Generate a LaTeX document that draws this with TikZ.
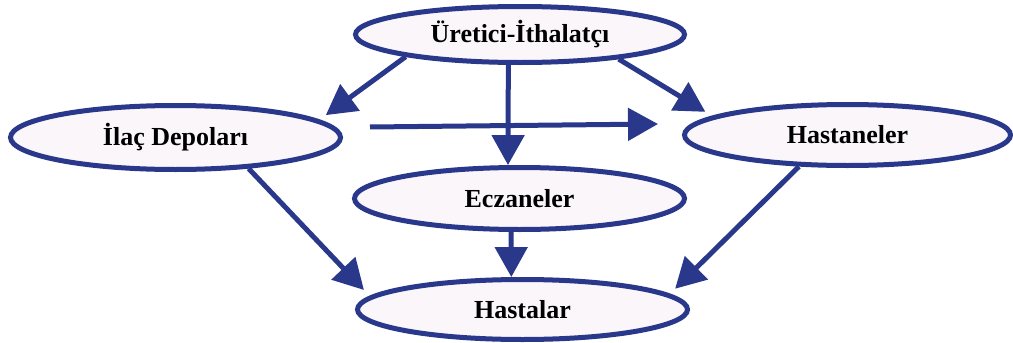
\documentclass[tikz,border=0pt]{standalone}
\usepackage{fontspec}
\setmainfont{Liberation Serif}
\usepackage{xcolor}
\usetikzlibrary{arrows.meta,shapes.geometric}
\definecolor{edgeblue}{RGB}{41, 56, 138}
\definecolor{ovalfill}{RGB}{251, 246, 250}

\begin{document}
\begin{tikzpicture}[x=1pt, y=-1pt, >={Triangle[length=30pt,width=32pt]},
  oval/.style={ellipse, draw=edgeblue, fill=ovalfill, line width=5pt,
    minimum width=330pt, minimum height=62pt, inner sep=0pt,
    font=\fontsize{26}{30}\selectfont\bfseries},
  flow/.style={->, edgeblue, line width=5pt}]
  \useasboundingbox (0,0) rectangle (1013,343);

  % Nodes
  \node[oval, minimum width=329pt, minimum height=56pt] (uretici) at (520,34.5) {Üretici-İthalatçı};
  \node[oval, minimum height=64pt] (depo) at (175.5,137.5) {İlaç Depoları};
  \node[oval, minimum width=326pt, minimum height=61pt] (hastane) at (847.5,135) {Hastaneler};
  \node[oval] (eczane) at (519.5,198.5) {Eczaneler};
  \node[oval, minimum height=60pt] (hasta) at (522.5,309.5) {Hastalar};

  % Free ends of the middle arrow
  \coordinate (gapL) at (370,127);
  \coordinate (gapR) at (658,124);

  % Arrows
  \draw[flow, shorten >=8pt] (uretici.191) -- (depo.7);
  \draw[flow, shorten >=8pt] (uretici.-14) -- (hastane.172.5);
  \draw[flow] (uretici.249) -- (eczane.109);
  \draw[flow] (gapL) -- (gapR);
  \draw[flow] (eczane.256) -- (hasta.109);
  \draw[flow, shorten >=8.5pt] (depo.-23) -- (hasta.175.6);
  \draw[flow, shorten >=7.5pt] (hastane.213) -- (hasta.6.5);
\end{tikzpicture}
\end{document}
